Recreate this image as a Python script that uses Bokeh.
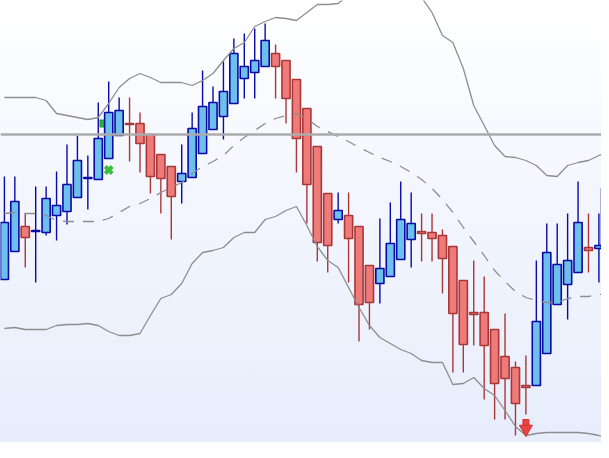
from bokeh.plotting import figure
from bokeh.models import Range1d, Span
from bokeh.embed import file_html
from bokeh.resources import INLINE

# OHLC prices (arbitrary price units)
open_ = [179, 207, 232, 227, 226, 243, 247, 261, 280, 279,
         300, 323, 335, 335, 324, 304, 292, 277, 281, 305,
         329, 342, 355, 380, 386, 392, 405, 398, 379, 350,
         312, 265, 239, 243, 232, 193, 175, 182, 199, 219,
         227, 226, 223, 212, 178, 146, 146, 129, 102, 91,
         73, 73, 105, 154, 174, 186, 211, 210, 211]
high = [282, 282, 245, 272, 272, 287, 314, 323, 303, 356,
        377, 361, 361, 346, 324, 304, 292, 314, 346, 388,
        372, 397, 420, 425, 430, 435, 414, 398, 379, 350,
        312, 265, 266, 266, 232, 193, 240, 256, 277, 266,
        245, 245, 229, 212, 178, 198, 182, 129, 145, 97,
        103, 198, 235, 235, 245, 277, 245, 245, 298]
low = [179, 207, 191, 176, 223, 218, 234, 261, 249, 279,
       300, 323, 297, 286, 265, 245, 219, 255, 281, 305,
       329, 319, 355, 360, 360, 392, 360, 335, 286, 235,
       197, 186, 235, 176, 117, 129, 155, 182, 199, 191,
       197, 197, 165, 86, 86, 113, 59, 39, 39, 23,
       44, 73, 105, 154, 139, 186, 186, 176, 211]
close = [236, 257, 221, 228, 260, 253, 274, 298, 281, 320,
         346, 348, 334, 315, 282, 280, 262, 285, 330, 352,
         356, 367, 405, 392, 398, 418, 392, 360, 320, 274,
         216, 213, 248, 220, 154, 156, 190, 215, 239, 235,
         225, 220, 200, 145, 114, 144, 113, 75, 80, 55,
         71, 137, 206, 194, 198, 236, 208, 213, 270]

# Bollinger bands
upper = [361, 361, 361, 361, 358, 345, 343, 341, 339, 341,
         355, 371, 380, 385, 381, 376, 376, 376, 373, 378,
         385, 398, 410, 416, 432, 437, 441, 440, 438, 446,
         454, 454, 455, 464, 473, 480, 484, 484, 480, 472,
         461, 446, 423, 416, 390, 353, 333, 313, 302, 301,
         298, 293, 283, 282, 293, 296, 298, 303, 308]
middle = [245, 246, 245, 245, 243, 238, 237, 237, 237, 237,
          240, 246, 252, 255, 260, 266, 271, 276, 285, 292,
          297, 303, 313, 321, 328, 335, 340, 343, 345, 340,
          332, 327, 322, 317, 311, 306, 301, 297, 292, 286,
          279, 270, 259, 246, 231, 217, 203, 188, 177, 167,
          161, 158, 156, 156, 160, 162, 162, 164, 165]
lower = [130, 131, 129, 129, 129, 133, 134, 134, 135, 133,
         127, 123, 123, 125, 143, 160, 164, 175, 195, 206,
         208, 211, 221, 226, 226, 239, 242, 248, 252, 233,
         212, 198, 191, 171, 151, 133, 121, 115, 109, 105,
         98, 96, 96, 74, 75, 81, 70, 63, 48, 32,
         23, 25, 26, 26, 26, 26, 25, 23, 20]

# horizontal reference level
level = 324

# signals
buy_x = [10]
buy_y = [288.5]
buy_hidden_x = [9.5]
buy_hidden_y = [335]
sell_x = [50]
sell_y = [29.5]

idx = list(range(len(open_)))

p = figure(width=601, height=442,
           x_range=Range1d(-0.374, 57.248), y_range=Range1d(16, 458),
           output_backend="svg", toolbar_location=None, min_border=0)
p.axis.visible = False
p.grid.visible = False
p.outline_line_color = None
p.background_fill_alpha = 0
p.border_fill_alpha = 0
p.styles = {"background": "linear-gradient(to bottom, #ffffff 0%, #f3f6fe 45%, #e7edfb 100%)"}

# hidden green marker behind candles
p.scatter(buy_hidden_x, buy_hidden_y, marker="square", size=7,
          fill_color="#2fb52f", line_color="#1f9a1f")

inc = [c >= o for o, c in zip(open_, close)]
up_i = [i for i in idx if inc[i]]
dn_i = [i for i in idx if not inc[i]]


def sub(lst, ii):
    return [lst[i] for i in ii]


BLUE_LINE = "#0a0aa6"
BLUE_FILL = "#6dbfec"
RED_LINE = "#a83838"
RED_FILL = "#ef7a7a"

# wicks
p.segment(sub(idx, up_i), sub(high, up_i), sub(idx, up_i), sub(low, up_i),
          line_color=BLUE_LINE, line_width=1.4)
p.segment(sub(idx, dn_i), sub(high, dn_i), sub(idx, dn_i), sub(low, dn_i),
          line_color=RED_LINE, line_width=1.4)

# bodies
p.vbar(x=sub(idx, up_i), width=0.78, top=sub(close, up_i), bottom=sub(open_, up_i),
       fill_color=BLUE_FILL, line_color=BLUE_LINE, line_width=1.6)
p.vbar(x=sub(idx, dn_i), width=0.78, top=sub(open_, dn_i), bottom=sub(close, dn_i),
       fill_color=RED_FILL, line_color=RED_LINE, line_width=1.6)

# bands
p.line(idx, upper, line_color="#8e8e8e", line_width=1.3)
p.line(idx, lower, line_color="#8e8e8e", line_width=1.3)
p.line(idx, middle, line_color="#8e8e8e", line_width=1.3, line_dash="11 9")

# level line
p.add_layout(Span(location=level, dimension="width", line_color="#ababab",
                  line_width=2.5))

# buy signal
p.scatter(buy_x, buy_y, marker="x", size=10, line_color="#3cbd3c", line_width=4)

# sell signal (down arrow: shaft + head)
p.scatter(sell_x, [v + 6.5 for v in sell_y], marker="square", size=6,
          fill_color="#e84444", line_color="#d03030", line_width=1)
p.scatter(sell_x, sell_y, marker="inverted_triangle", size=13,
          fill_color="#e84444", line_color="#d03030", line_width=1)

open("out.html", "w").write(file_html(p, INLINE))
